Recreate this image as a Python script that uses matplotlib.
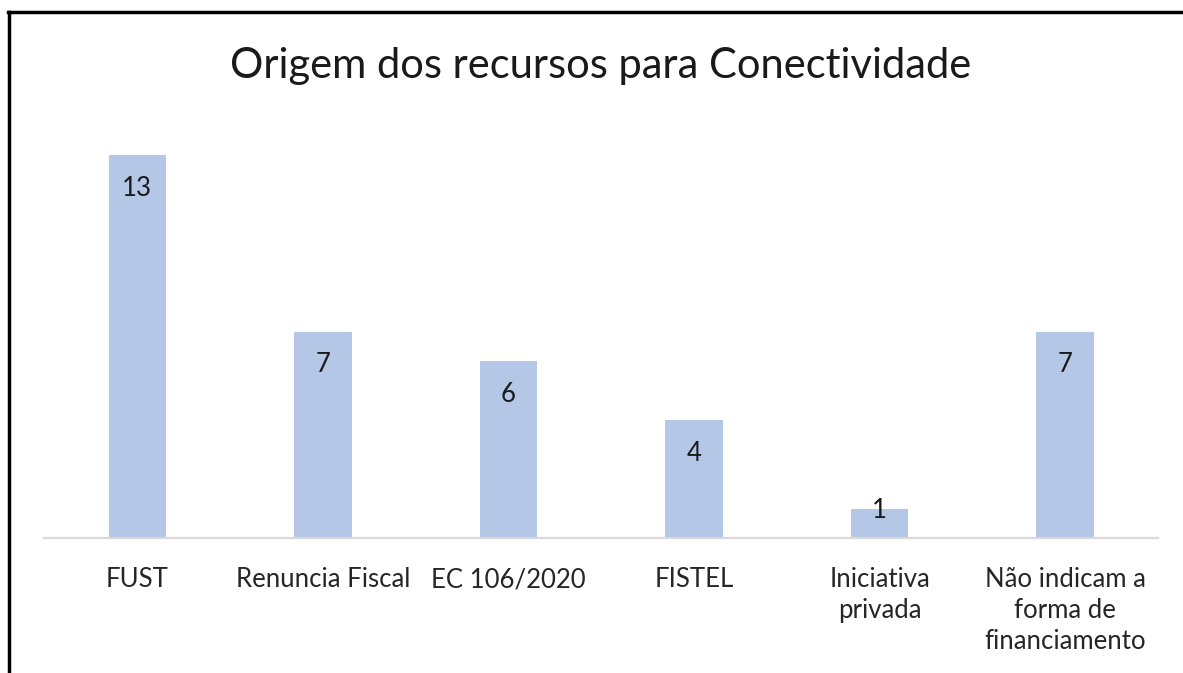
import matplotlib
matplotlib.use("Agg")
import matplotlib.pyplot as plt
from matplotlib.lines import Line2D

plt.rcParams['font.family'] = ['Lato', 'DejaVu Sans']

categories = ["FUST", "Renuncia Fiscal", "EC 106/2020", "FISTEL",
              "Iniciativa\nprivada", "Não indicam a\nforma de\nfinanciamento"]
values = [13, 7, 6, 4, 1, 7]

bar_color = "#b4c7e7"

fig = plt.figure(figsize=(11.83, 6.73), dpi=100)
ax = fig.add_axes([0.0376, 0.2006, 0.9413, 0.6122])

x = range(len(categories))
bars = ax.bar(x, values, width=0.31, color=bar_color, zorder=2)

ax.set_xlim(-0.5, len(categories) - 0.5)
ax.set_ylim(0, 14)

# value labels inside the top of each bar (short bars: label sits at the top edge)
fig.canvas.draw()
for b, v in zip(bars, values):
    cx = b.get_x() + b.get_width() / 2
    y0 = ax.transData.transform((cx, 0))[1]
    y1 = ax.transData.transform((cx, v))[1]
    off = min(33, (y1 - y0) - 27)
    ax.annotate(str(v), (cx, v), xytext=(0, -off), textcoords="offset pixels",
                ha="center", va="center", fontsize=18.5, color="#1a1a1a", zorder=3)

ax.set_xticks(list(x))
ax.set_xticklabels(categories, fontsize=18.5, color="#262626", linespacing=1.3)
ax.tick_params(axis="x", length=0, pad=21)
ax.set_yticks([])

for s in ["top", "right", "left"]:
    ax.spines[s].set_visible(False)
ax.spines["bottom"].set_color("#d9d9d9")
ax.spines["bottom"].set_linewidth(1.6)

fig.text(0.5076, 0.902, "Origem dos recursos para Conectividade",
         ha="center", va="center", fontsize=30, color="#1a1a1a")

# outer frame (top and left edges only, as cropped)
fig.add_artist(Line2D([8 / 1183, 1.0], [1 - 12 / 673, 1 - 12 / 673],
                      color="black", linewidth=2.5, transform=fig.transFigure))
fig.add_artist(Line2D([9 / 1183, 9 / 1183], [0.0, 1 - 12 / 673],
                      color="black", linewidth=2.5, transform=fig.transFigure))

fig.savefig("out.png", dpi=100)
